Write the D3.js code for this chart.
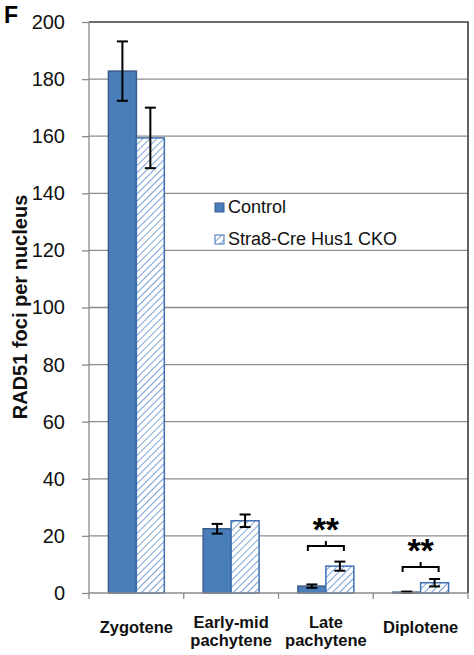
<!doctype html>
<html>
<head>
<meta charset="utf-8">
<title>RAD51 foci per nucleus</title>
<script src="https://d3js.org/d3.v7.min.js"></script>
<style>
  body { margin:0; background:#fff; }
  svg text { font-family: "Liberation Sans", Arial, sans-serif; }
</style>
</head>
<body>
<svg id="chart" width="474" height="655"></svg>
<script>
// data
var stages = ["Zygotene", "Early-mid pachytene", "Late pachytene", "Diplotene"];
var stageLines = [["Zygotene"], ["Early-mid", "pachytene"], ["Late", "pachytene"], ["Diplotene"]];
var seriesNames = ["Control", "Stra8-Cre Hus1 CKO"];
var controlMean = [182.8, 22.5, 2.4, 0.3];
var controlErr  = [10.4, 1.7, 0.6, 0.2];
var ckoMean     = [159.4, 25.3, 9.4, 3.6];
var ckoErr      = [10.6, 2.2, 1.6, 1.3];
var sigLevel    = [null, null, 16.5, 9.1];   // bracket height, in y units
var sigText     = "**";
var yTicks = [0, 20, 40, 60, 80, 100, 120, 140, 160, 180, 200];

var svg = d3.select("#chart");
var margin = {top: 22, right: 6, bottom: 62, left: 89},
    width = 474 - margin.left - margin.right,
    height = 655 - margin.top - margin.bottom;

var g = svg.append("g").attr("transform", "translate(" + margin.left + "," + margin.top + ")");

var blue = "#4a7ebb", edge = "#385d8a", hatchEdge = "#3f6fb0";

// hatch pattern (upward diagonal)
var defs = svg.append("defs");
defs.append("pattern")
    .attr("id", "hatch")
    .attr("patternUnits", "userSpaceOnUse")
    .attr("width", 5).attr("height", 5)
    .attr("patternTransform", "rotate(45)")
  .call(function(p) {
    p.append("rect").attr("width", 5).attr("height", 5).attr("fill", "#fff");
    p.append("line").attr("x1", 0).attr("y1", 0).attr("x2", 0).attr("y2", 5)
      .attr("stroke", "#5b8bc9").attr("stroke-width", 1.6);
  });

var x = d3.scaleBand().domain(stages).range([0, width]);
var xs = d3.scaleBand().domain([0, 1]).range([0, x.bandwidth() * 0.59]);
var groupOff = (x.bandwidth() - xs.range()[1]) / 2;
var y = d3.scaleLinear().domain([0, 200]).range([height, 0]);

// gridlines
g.append("g").selectAll("line")
  .data(yTicks.filter(function(d) { return d > 0 && d < 200; }))
  .enter().append("line")
    .attr("x1", 0).attr("x2", width)
    .attr("y1", function(d) { return y(d); }).attr("y2", function(d) { return y(d); })
    .attr("stroke", "#8c8c8c").attr("stroke-width", 1.3);

// plot border top & right
g.append("path")
  .attr("d", "M0," + y(200) + "H" + width + "V" + height)
  .attr("fill", "none").attr("stroke", "#3c3c3c").attr("stroke-width", 1.6);

// bars
var series = [
  {mean: controlMean, err: controlErr, fill: blue, stroke: edge},
  {mean: ckoMean, err: ckoErr, fill: "url(#hatch)", stroke: hatchEdge}
];

series.forEach(function(s, si) {
  var bx = function(d, i) { return x(stages[i]) + groupOff + xs(si); };
  g.append("g").selectAll("rect")
    .data(s.mean).enter().append("rect")
      .attr("x", bx)
      .attr("y", function(d) { return y(d); })
      .attr("width", xs.bandwidth())
      .attr("height", function(d) { return y(0) - y(d); })
      .attr("fill", s.fill)
      .attr("stroke", s.stroke).attr("stroke-width", 1.5);

  var eb = g.append("g").attr("stroke", "#000").attr("stroke-width", 2);
  s.mean.forEach(function(m, i) {
    var cx = bx(m, i) + xs.bandwidth() / 2, e = s.err[i];
    eb.append("line").attr("x1", cx).attr("x2", cx).attr("y1", y(m + e)).attr("y2", y(m - e));
    eb.append("line").attr("x1", cx - 5.5).attr("x2", cx + 5.5).attr("y1", y(m + e)).attr("y2", y(m + e));
    eb.append("line").attr("x1", cx - 5.5).attr("x2", cx + 5.5).attr("y1", y(m - e)).attr("y2", y(m - e));
  });
});

// y axis
var yAxis = g.append("g")
  .call(d3.axisLeft(y).tickValues(yTicks).tickSize(7).tickPadding(17));
yAxis.select(".domain").attr("stroke", "#8c8c8c").attr("stroke-width", 1.3).attr("d", "M0," + y(200) + "V" + height);
yAxis.selectAll(".tick line").attr("stroke", "#8c8c8c").attr("stroke-width", 1.3);
yAxis.selectAll(".tick text").attr("font-size", 20).attr("fill", "#111")
  .attr("font-family", "'Liberation Sans', Arial, sans-serif");

// x axis
var xAxis = g.append("g").attr("transform", "translate(0," + height + ")");
xAxis.append("line").attr("x1", 0).attr("x2", width)
  .attr("stroke", "#8c8c8c").attr("stroke-width", 1.3);
xAxis.selectAll(".xt")
  .data(stages.concat(["end"])).enter().append("line")
    .attr("x1", function(d, i) { return i < stages.length ? x(d) : width; })
    .attr("x2", function(d, i) { return i < stages.length ? x(d) : width; })
    .attr("y1", 0).attr("y2", 6)
    .attr("stroke", "#8c8c8c").attr("stroke-width", 1.3);

stageLines.forEach(function(lines, i) {
  var cx = x(stages[i]) + x.bandwidth() / 2;
  var t = xAxis.append("text")
    .attr("text-anchor", "middle")
    .attr("font-size", 16.5).attr("font-weight", "bold").attr("fill", "#111");
  var base = lines.length === 1 ? 40 : 35;
  lines.forEach(function(l, k) {
    t.append("tspan").attr("x", cx).attr("y", base + k * 18).text(l);
  });
});

// significance brackets
sigLevel.forEach(function(lv, i) {
  if (lv == null) return;
  var cx = x(stages[i]) + x.bandwidth() / 2, yy = y(lv), hw = 18;
  g.append("path")
    .attr("d", "M" + (cx - hw) + "," + (yy + 5) + "V" + yy + "H" + (cx + hw) + "V" + (yy + 5) +
               "M" + cx + "," + yy + "V" + (yy - 5))
    .attr("fill", "none").attr("stroke", "#000").attr("stroke-width", 2);
  g.append("text")
    .attr("x", cx).attr("y", yy - 5)
    .attr("text-anchor", "middle")
    .attr("font-size", 34).attr("font-weight", "bold")
    .text(sigText);
});

// legend
var legend = g.append("g").attr("transform", "translate(126,180)");
seriesNames.forEach(function(name, i) {
  var row = legend.append("g").attr("transform", "translate(0," + i * 32 + ")");
  row.append("rect").attr("x", 0).attr("y", 1).attr("width", 9).attr("height", 9)
    .attr("fill", series[i].fill).attr("stroke", series[i].stroke).attr("stroke-width", 1);
  row.append("text").attr("x", 13).attr("y", 11)
    .attr("font-size", 18).attr("fill", "#111").text(name);
});

// y title
svg.append("text")
  .attr("transform", "translate(27,307) rotate(-90)")
  .attr("text-anchor", "middle")
  .attr("font-size", 20).attr("font-weight", "bold").attr("fill", "#111")
  .text("RAD51 foci per nucleus");

// panel letter
svg.append("text")
  .attr("x", 4).attr("y", 23)
  .attr("font-size", 23).attr("font-weight", "bold")
  .text("F");
</script>
</body>
</html>
